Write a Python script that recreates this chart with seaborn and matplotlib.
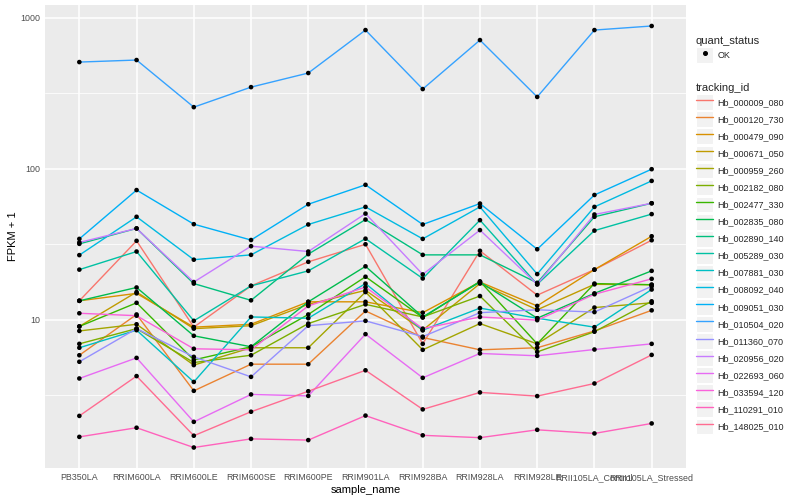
import pandas as pd
import seaborn as sns
import matplotlib.pyplot as plt
from matplotlib.lines import Line2D
from matplotlib.patches import Rectangle
from matplotlib.legend_handler import HandlerTuple

# --- Data (FPKM + 1) ---
samples = ["PB350LA", "RRIM600LA", "RRIM600LE", "RRIM600SE", "RRIM600PE",
           "RRIM901LA", "RRIM928BA", "RRIM928LA", "RRIM928LE",
           "RRII105LA_Control", "RRII105LA_Stressed"]

Hb_000009_080 = [13.3, 33.2, 8.9, 16.7, 24.1, 31.5, 6.9, 28.5, 14.5, 21.4, 33.5]
Hb_000120_730 = [5.8, 10.8, 3.37, 5.06, 5.06, 11.4, 7.6, 6.3, 6.5, 8.4, 11.5]
Hb_000479_090 = [13.3, 14.9, 8.9, 9.3, 13.1, 13.1, 11.1, 17.7, 12.3, 21.4, 35.6]
Hb_000671_050 = [9.0, 15.2, 8.7, 9.1, 12.6, 15.6, 8.5, 17.3, 11.6, 17.1, 17.0]
Hb_000959_260 = [8.4, 9.3, 4.99, 6.5, 6.5, 15.2, 6.3, 9.4, 6.9, 12.0, 12.9]
Hb_002182_080 = [6.9, 8.7, 5.19, 5.8, 9.4, 12.6, 10.4, 14.3, 6.1, 8.3, 13.2]
Hb_002477_330 = [9.0, 12.9, 5.4, 6.6, 10.8, 19.2, 10.3, 17.9, 6.9, 17.3, 17.0]
Hb_002835_080 = [13.3, 16.3, 7.8, 6.6, 13.1, 22.5, 10.4, 17.7, 10.2, 14.9, 21.0]
Hb_002890_140 = [31.7, 40.1, 17.3, 13.4, 27.1, 45.9, 26.8, 26.8, 17.5, 47.9, 58.9]
Hb_005289_030 = [21.4, 28.2, 9.8, 16.7, 21.0, 34.3, 18.7, 45.5, 17.1, 38.8, 49.9]
Hb_007881_030 = [6.5, 8.5, 3.86, 10.4, 10.2, 17.3, 8.5, 11.9, 10.2, 8.9, 15.8]
Hb_008092_040 = [26.7, 47.9, 24.9, 26.8, 42.6, 55.7, 34.2, 55.7, 20.0, 55.7, 82.8]
Hb_009051_030 = [34.2, 72.0, 42.8, 33.6, 58.0, 78.0, 42.6, 58.6, 29.2, 66.8, 99.0]
Hb_010504_020 = [507, 523, 255, 346, 429, 826, 336, 709, 298, 826, 879]
Hb_011360_070 = [5.25, 8.7, 5.66, 4.17, 9.1, 9.8, 7.7, 11.1, 11.6, 11.2, 16.6]
Hb_020956_020 = [32.4, 40.1, 17.7, 30.6, 28.2, 50.3, 19.9, 39.1, 17.1, 49.6, 58.9]
Hb_022693_060 = [4.07, 5.57, 2.10, 3.19, 3.12, 8.0, 4.11, 5.96, 5.75, 6.33, 6.9]
Hb_033594_120 = [11.0, 10.6, 6.4, 6.3, 12.3, 16.4, 8.7, 10.4, 9.9, 14.7, 18.6]
Hb_110291_010 = [1.67, 1.92, 1.42, 1.62, 1.59, 2.31, 1.71, 1.65, 1.86, 1.76, 2.05]
Hb_148025_010 = [2.30, 4.22, 1.70, 2.45, 3.35, 4.61, 2.54, 3.29, 3.11, 3.77, 5.83]

series = {
    "Hb_000009_080": Hb_000009_080, "Hb_000120_730": Hb_000120_730,
    "Hb_000479_090": Hb_000479_090, "Hb_000671_050": Hb_000671_050,
    "Hb_000959_260": Hb_000959_260, "Hb_002182_080": Hb_002182_080,
    "Hb_002477_330": Hb_002477_330, "Hb_002835_080": Hb_002835_080,
    "Hb_002890_140": Hb_002890_140, "Hb_005289_030": Hb_005289_030,
    "Hb_007881_030": Hb_007881_030, "Hb_008092_040": Hb_008092_040,
    "Hb_009051_030": Hb_009051_030, "Hb_010504_020": Hb_010504_020,
    "Hb_011360_070": Hb_011360_070, "Hb_020956_020": Hb_020956_020,
    "Hb_022693_060": Hb_022693_060, "Hb_033594_120": Hb_033594_120,
    "Hb_110291_010": Hb_110291_010, "Hb_148025_010": Hb_148025_010,
}
ids = list(series)

# ggplot2 default hue palette for 20 levels
colors = ["#F8766D", "#EA8331", "#D89000", "#C09B00", "#A3A500", "#7CAE00",
          "#39B600", "#00BB4E", "#00BF7D", "#00C1A3", "#00BFC4", "#00BAE0",
          "#00B0F6", "#35A2FF", "#9590FF", "#C77CFF", "#E76BF3", "#FA62DB",
          "#FF62BC", "#FF6C91"]
palette = dict(zip(ids, colors))

rows = []
for tid, vals in series.items():
    for s, v in zip(samples, vals):
        rows.append({"tracking_id": tid, "sample_name": s, "fpkm": v,
                     "quant_status": "OK"})
df = pd.DataFrame(rows)

# --- Style (ggplot-like) ---
sns.set_theme(style="darkgrid", rc={
    "axes.facecolor": "#EBEBEB",
    "grid.color": "white",
    "figure.facecolor": "white",
})
plt.rcParams["font.family"] = ["Liberation Sans", "DejaVu Sans"]

fig = plt.figure(figsize=(8, 5), dpi=100)
ax = fig.add_axes([45 / 800, 32 / 500, 641 / 800, 463 / 500])
ax.set_yscale("log")

sns.lineplot(data=df, x="sample_name", y="fpkm", hue="tracking_id",
             hue_order=ids, palette=palette, estimator=None, sort=False,
             linewidth=1.0, legend=False, ax=ax)
sns.scatterplot(data=df, x="sample_name", y="fpkm", color="black", s=11,
                edgecolor="none", legend=False, ax=ax, zorder=5)

ax.set_xlim(-0.6, len(samples) - 0.4)
ax.set_ylim(10 ** 0.0166, 10 ** 3.083)
ax.set_yticks([10, 100, 1000])
ax.set_yticklabels(["10", "100", "1000"])
ax.set_yticks([10 ** 0.5, 10 ** 1.5, 10 ** 2.5], minor=True)
ax.yaxis.set_minor_formatter(plt.NullFormatter())
ax.grid(True, which="major", color="white", linewidth=1.1)
ax.grid(True, which="minor", axis="y", color="white", linewidth=0.55)
ax.tick_params(which="major", length=2.2, width=0.6, color="#333333",
               labelsize=6.4, labelcolor="#4D4D4D", pad=1.5)
ax.tick_params(which="minor", length=0)
for sp in ax.spines.values():
    sp.set_visible(False)

ax.set_xlabel("sample_name", fontsize=8, color="black", labelpad=2)
ax.set_ylabel("FPKM + 1", fontsize=8, color="black", labelpad=1)

# --- Legends ---
key_bg = dict(facecolor="#F2F2F2", edgecolor="white", linewidth=0.8)
leg_kw = dict(loc="upper left", frameon=False, fontsize=6.5, title_fontsize=8,
              alignment="left", handlelength=1.9, handleheight=2.3,
              handletextpad=0.5, borderpad=0, borderaxespad=0,
              labelspacing=0.15,
              handler_map={tuple: HandlerTuple(ndivide=1, pad=0)})

qs_handles = [(Rectangle((0, 0), 1, 1, **key_bg),
               Line2D([], [], marker="o", color="black", markersize=2.6,
                      linestyle="none"))]
leg1 = fig.legend(qs_handles, ["OK"], title="quant_status",
                  bbox_to_anchor=(696 / 800, 1 - 36 / 500), **leg_kw)

tid_handles = [(Rectangle((0, 0), 1, 1, **key_bg),
                Line2D([], [], color=palette[t], linewidth=1.0)) for t in ids]
leg2 = fig.legend(tid_handles, ids, title="tracking_id",
                  bbox_to_anchor=(696 / 800, 1 - 83 / 500), **leg_kw)

fig.savefig("out.png", dpi=100)
